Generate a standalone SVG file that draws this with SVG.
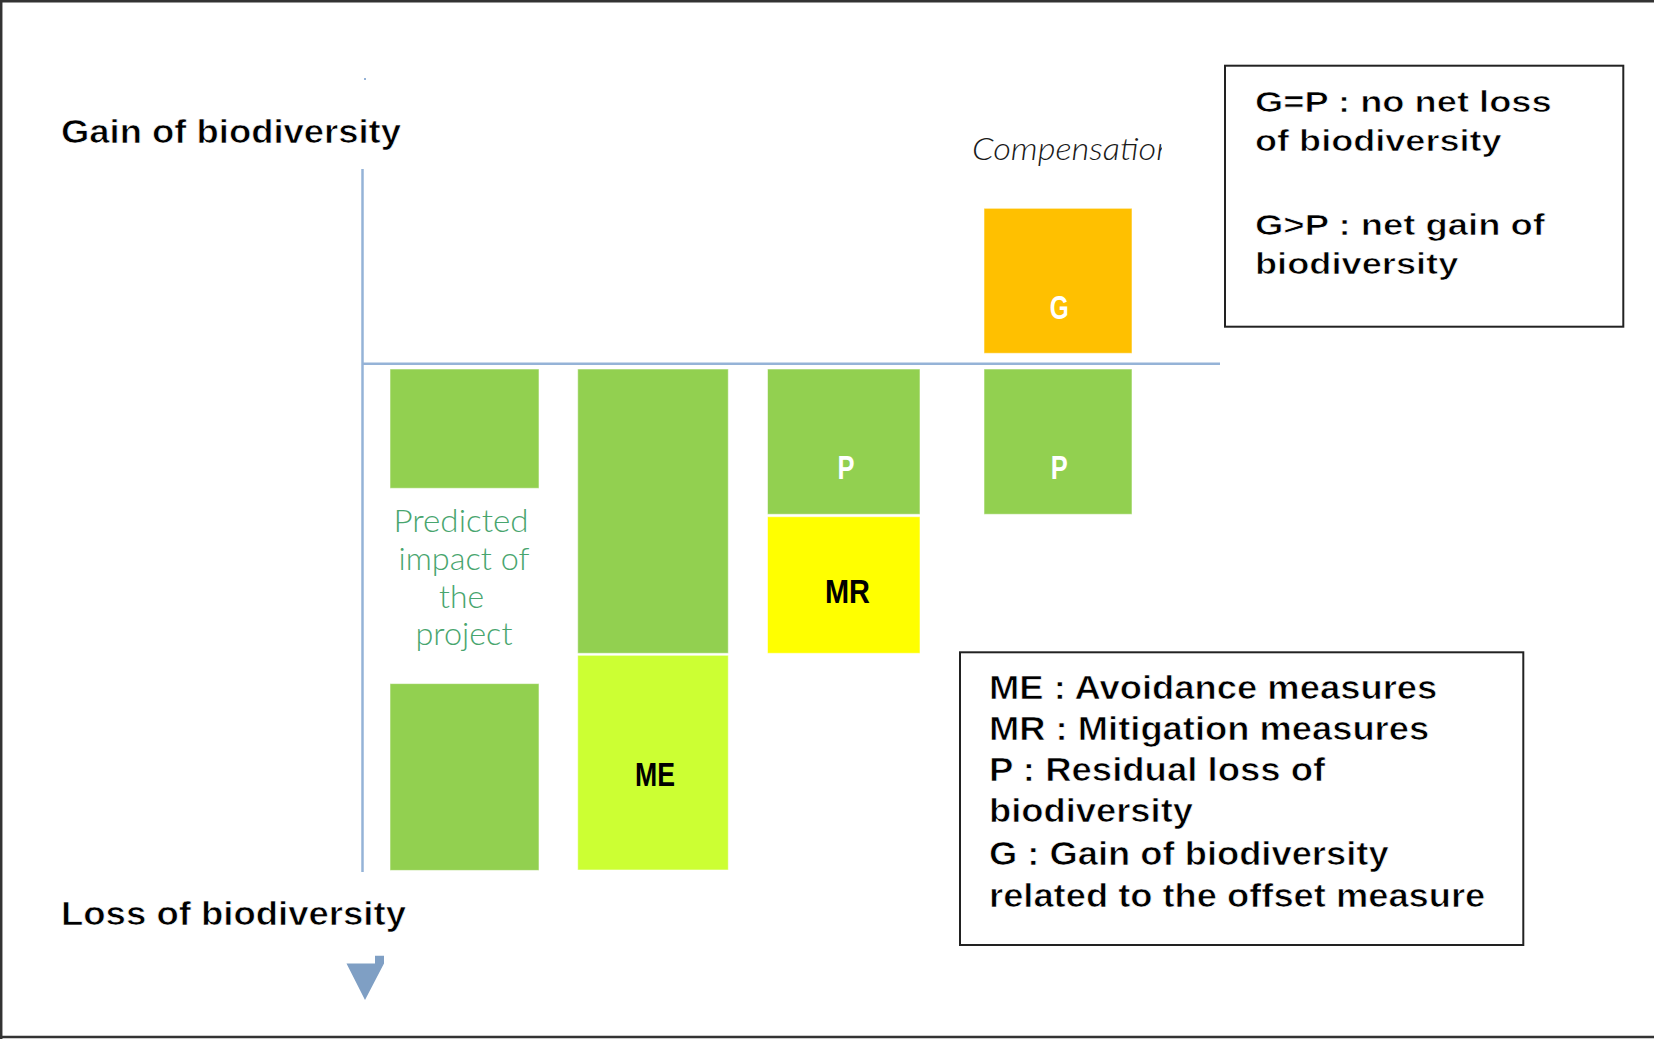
<svg xmlns="http://www.w3.org/2000/svg" width="1654" height="1039" viewBox="0 0 1654 1039">
  <defs>
    <style>
      .frame { stroke: #333333; stroke-width: 2.5; fill: none; }
      .axis { stroke: #95b3d7; stroke-width: 2.5; fill: none; }
      .box { stroke: #ffffff; stroke-opacity: 0.55; stroke-width: 1; }
      .green { fill: #92d050; }
      .lime { fill: #ccff33; }
      .yellow { fill: #ffff00; }
      .orange { fill: #ffc000; }
      .tag { font-family: "Liberation Sans Narrow", "Liberation Sans", Arial, sans-serif; font-weight: bold; font-size: 34px; text-anchor: middle; }
      .tag-white { fill: #ffffff; }
      .tag-black { fill: #000000; }
      /* bold text on white, slightly thinned by a white outline */
      .axis-label { font-family: "Liberation Sans", Arial, sans-serif; font-weight: bold; font-size: 34px; fill: #000000; stroke: #ffffff; stroke-width: 0.7; }
      .legend { font-family: "Liberation Sans", Arial, sans-serif; font-weight: bold; fill: #000000; stroke: #ffffff; stroke-width: 0.7; }
      .legend-box { fill: #ffffff; stroke: #222222; stroke-width: 2; }
      .note { font-family: Lato, "Liberation Sans", Arial, sans-serif; font-weight: 300; font-size: 32px; fill: #48a56e; text-anchor: middle; }
      .title { font-family: Lato, "Liberation Sans", Arial, sans-serif; font-weight: 300; font-style: italic; font-size: 31px; fill: #1a1a1a; }
    </style>
    <clipPath id="title-clip">
      <rect x="960" y="120" width="202" height="60"/>
    </clipPath>
  </defs>

  <rect x="0" y="0" width="1654" height="1039" fill="#ffffff"/>

  <!-- outer frame: top, left and bottom edges -->
  <g id="frame">
    <line class="frame" x1="0" y1="1.2" x2="1654" y2="1.2"/>
    <line class="frame" x1="1.2" y1="0" x2="1.2" y2="1039"/>
    <line class="frame" x1="0" y1="1037" x2="1654" y2="1037"/>
  </g>

  <!-- axes -->
  <g id="connectors">
    <rect x="364" y="78" width="2" height="2" fill="#95b3d7"/>
    <line class="axis" x1="362.5" y1="169" x2="362.5" y2="872"/>
    <line class="axis" x1="362" y1="363.7" x2="1220" y2="363.7"/>
    <polygon points="346.5,963.5 375,963.5 375,955.8 384,955.8 384,963.5 365,1000" fill="#7f9fc4"/>
  </g>

  <!-- axis labels -->
  <g id="label-gain">
    <text class="axis-label" x="61" y="143.3" textLength="340" lengthAdjust="spacingAndGlyphs">Gain of biodiversity</text>
  </g>
  <g id="label-loss">
    <text class="axis-label" x="61" y="925" textLength="345" lengthAdjust="spacingAndGlyphs">Loss of biodiversity</text>
  </g>

  <!-- column 1: predicted impact -->
  <g id="impact-top">
    <rect class="box green" x="390" y="369" width="149" height="119.3"/>
  </g>
  <g id="impact-label">
    <text class="note" x="461" y="532.3" textLength="135" lengthAdjust="spacingAndGlyphs">Predicted</text>
    <text class="note" x="464" y="570" textLength="131" lengthAdjust="spacingAndGlyphs">impact of</text>
    <text class="note" x="461.5" y="607.8" textLength="45" lengthAdjust="spacingAndGlyphs">the</text>
    <text class="note" x="464" y="645.3" textLength="97" lengthAdjust="spacingAndGlyphs">project</text>
  </g>
  <g id="impact-bottom">
    <rect class="box green" x="390" y="683.6" width="149" height="186.8"/>
  </g>

  <!-- column 2: avoidance -->
  <g id="loss-after-avoidance">
    <rect class="box green" x="577.7" y="369" width="150.6" height="284.3"/>
  </g>
  <g id="ME">
    <rect class="box lime" x="577.7" y="655.3" width="150.6" height="214.7"/>
    <text class="tag tag-black" x="655" y="785.7" textLength="40" lengthAdjust="spacingAndGlyphs">ME</text>
  </g>

  <!-- column 3: mitigation -->
  <g id="P-residual">
    <rect class="box green" x="767.5" y="369" width="152.5" height="145.3"/>
    <text class="tag tag-white" x="846" y="479.3" textLength="17" lengthAdjust="spacingAndGlyphs">P</text>
  </g>
  <g id="MR">
    <rect class="box yellow" x="767.5" y="516.7" width="152.5" height="136.6"/>
    <text class="tag tag-black" x="847.5" y="602.7" textLength="45" lengthAdjust="spacingAndGlyphs">MR</text>
  </g>

  <!-- column 4: compensation -->
  <g id="compensation-title">
    <text class="title" x="972" y="160" textLength="202" lengthAdjust="spacingAndGlyphs" clip-path="url(#title-clip)">Compensation</text>
  </g>
  <g id="G">
    <rect class="box orange" x="984" y="208.3" width="148" height="145"/>
    <text class="tag tag-white" x="1059.3" y="319" textLength="19" lengthAdjust="spacingAndGlyphs">G</text>
  </g>
  <g id="P-offset">
    <rect class="box green" x="984" y="369" width="148" height="145.3"/>
    <text class="tag tag-white" x="1059.3" y="479.3" textLength="17" lengthAdjust="spacingAndGlyphs">P</text>
  </g>

  <!-- legend: outcomes -->
  <g id="legend-outcome">
    <rect class="legend-box" x="1225" y="65.7" width="398.3" height="261"/>
    <text class="legend" font-size="30" x="1255" y="112" textLength="296.7" lengthAdjust="spacingAndGlyphs">G=P : no net loss</text>
    <text class="legend" font-size="30" x="1255" y="151" textLength="246.7" lengthAdjust="spacingAndGlyphs">of biodiversity</text>
    <text class="legend" font-size="30" x="1255" y="234.5" textLength="290" lengthAdjust="spacingAndGlyphs">G&gt;P : net gain of</text>
    <text class="legend" font-size="30" x="1255" y="273.5" textLength="203.3" lengthAdjust="spacingAndGlyphs">biodiversity</text>
  </g>

  <!-- legend: abbreviations -->
  <g id="legend-terms">
    <rect class="legend-box" x="960" y="652.3" width="563.3" height="292.7"/>
    <text class="legend" font-size="33" x="989" y="699" textLength="448.3" lengthAdjust="spacingAndGlyphs">ME : Avoidance measures</text>
    <text class="legend" font-size="33" x="989" y="740" textLength="440.2" lengthAdjust="spacingAndGlyphs">MR : Mitigation measures</text>
    <text class="legend" font-size="33" x="989" y="780.7" textLength="336.2" lengthAdjust="spacingAndGlyphs">P : Residual loss of</text>
    <text class="legend" font-size="33" x="989" y="821.7" textLength="204" lengthAdjust="spacingAndGlyphs">biodiversity</text>
    <text class="legend" font-size="33" x="989" y="865" textLength="399.6" lengthAdjust="spacingAndGlyphs">G : Gain of biodiversity</text>
    <text class="legend" font-size="33" x="989" y="906.7" textLength="496.3" lengthAdjust="spacingAndGlyphs">related to the offset measure</text>
  </g>
</svg>
